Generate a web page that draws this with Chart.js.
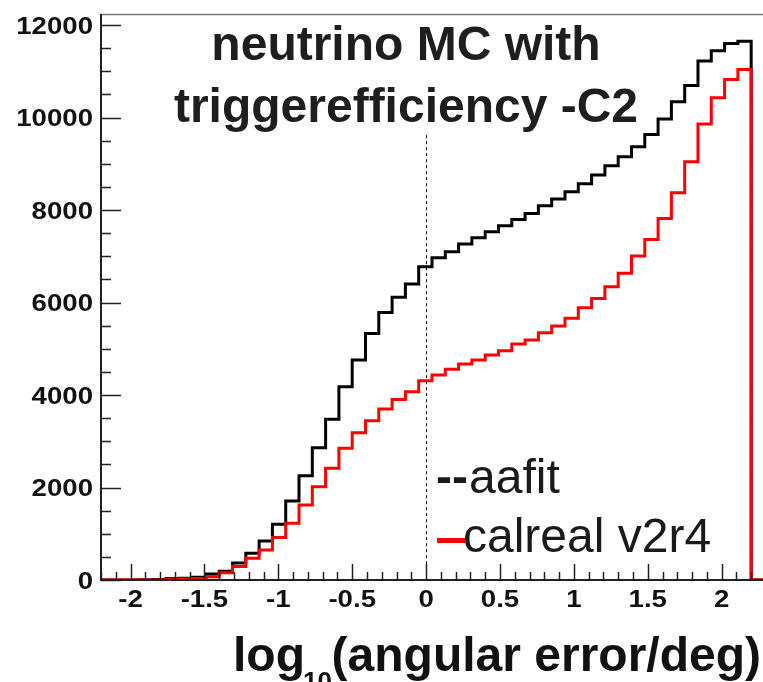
<!DOCTYPE html>
<html>
<head>
<meta charset="utf-8">
<script src="https://cdn.jsdelivr.net/npm/chart.js@4.4.1/dist/chart.umd.min.js"></script>
<style>
body { margin: 0; background: #fff; }
canvas { display: block; }
</style>
</head>
<body>
<canvas id="myChart" width="763" height="682"></canvas>
<script>
// 50 bins of width 0.09 in log10(angular error/deg), starting at -2.3
var binLow = -2.3;
var binWidth = 0.09;

var aafit = [
    0, 0, 0, 0, 5, 10, 30, 40, 60, 130,
    190, 365, 580, 843, 1204, 1708, 2255, 2860, 3474, 4180,
    4756, 5333, 5785, 6112, 6400, 6774, 6969, 7098, 7264, 7401,
    7530, 7660, 7798, 7928, 8093, 8237, 8395, 8570, 8756, 8958,
    9153, 9370, 9636, 9967, 10341, 10695, 11221, 11444, 11603, 11653
];
var calreal = [
    0, 0, 0, 0, 0, 0, 15, 20, 30, 72,
    158, 290, 470, 650, 920, 1225, 1621, 2018, 2414, 2847,
    3185, 3444, 3700, 3906, 4072, 4310, 4432, 4555, 4670, 4756,
    4865, 4958, 5102, 5189, 5347, 5491, 5658, 5890, 6090, 6341,
    6631, 7005, 7366, 7820, 8374, 9044, 9859, 10428, 10825, 11041
];

var xTickValues = [-2, -1.5, -1, -0.5, 0, 0.5, 1, 1.5, 2];
var xTickLabels = ['-2', '-1.5', '-1', '-0.5', '0', '0.5', '1', '1.5', '2'];
var yTickValues = [0, 2000, 4000, 6000, 8000, 10000, 12000];
var yTickLabels = ['0', '2000', '4000', '6000', '8000', '10000', '12000'];

var titleLines = ['neutrino MC with', 'triggerefficiency -C2'];
var cutValue = 0;        // dashed marker at log10 = 0
var cutTop = 9620;

var FONT = '"Liberation Sans", Arial, Helvetica, sans-serif';

// turn bin contents into points for a stepped line (value holds until next edge)
function histPoints(values) {
    var pts = [];
    for (var i = 0; i < values.length; i++) {
        pts.push({x: binLow + i * binWidth, y: values[i]});
    }
    var hi = binLow + values.length * binWidth;
    pts.push({x: hi, y: 0});
    pts.push({x: hi + 1, y: 0});
    return pts;
}

function stretchText(ctx, str, x, y, align, sx) {
    ctx.save();
    ctx.translate(x, y);
    ctx.scale(sx, 1);
    ctx.textAlign = align;
    ctx.fillText(str, 0, 0);
    ctx.restore();
}

var rootFrame = {
    id: 'rootFrame',
    beforeDatasetsDraw: function (chart) {
        var ctx = chart.ctx;
        var xs = chart.scales.x, ys = chart.scales.y;
        var px = Math.round(xs.getPixelForValue(cutValue)) + 0.5;
        ctx.save();
        ctx.strokeStyle = '#000';
        ctx.lineWidth = 1;
        ctx.setLineDash([3, 3]);
        ctx.beginPath();
        ctx.moveTo(px, ys.getPixelForValue(cutTop));
        ctx.lineTo(px, ys.getPixelForValue(0));
        ctx.stroke();
        ctx.restore();
    },
    afterDraw: function (chart) {
        var ctx = chart.ctx;
        var area = chart.chartArea;
        var xs = chart.scales.x, ys = chart.scales.y;
        var i, v, p, len;

        ctx.save();
        // frame
        ctx.strokeStyle = '#777';
        ctx.lineWidth = 1.5;
        ctx.beginPath();
        ctx.moveTo(area.left, area.top + 0.5);
        ctx.lineTo(area.right, area.top + 0.5);
        ctx.stroke();
        ctx.strokeStyle = '#222';
        ctx.lineWidth = 2;
        ctx.beginPath();
        ctx.moveTo(area.left, area.top);
        ctx.lineTo(area.left, area.bottom);
        ctx.lineTo(area.right, area.bottom);
        ctx.stroke();

        // y ticks, pointing into the frame
        ctx.lineWidth = 1.5;
        ctx.beginPath();
        for (v = 0; v <= 12000; v += 500) {
            p = Math.round(ys.getPixelForValue(v)) + 0.5;
            len = (v % 2000 === 0) ? 20 : 10;
            ctx.moveTo(area.left, p);
            ctx.lineTo(area.left + len, p);
        }
        // x ticks
        for (i = -22; i <= 22; i++) {
            v = i / 10;
            p = Math.round(xs.getPixelForValue(v)) + 0.5;
            len = (i % 5 === 0) ? 16 : 8;
            ctx.moveTo(p, area.bottom);
            ctx.lineTo(p, area.bottom - len);
        }
        ctx.stroke();

        // tick labels
        ctx.fillStyle = '#111';
        ctx.font = 'bold 24px ' + FONT;
        ctx.textBaseline = 'alphabetic';
        for (i = 0; i < yTickValues.length; i++) {
            p = ys.getPixelForValue(yTickValues[i]);
            stretchText(ctx, yTickLabels[i], 93, p + 8.5, 'right', 1.15);
        }
        for (i = 0; i < xTickValues.length; i++) {
            p = xs.getPixelForValue(xTickValues[i]);
            stretchText(ctx, xTickLabels[i], p, 607, 'center', 1.15);
        }

        // title
        ctx.fillStyle = '#1e1e1e';
        ctx.font = 'bold 48px ' + FONT;
        ctx.textAlign = 'center';
        ctx.fillText(titleLines[0], 406, 60);
        ctx.fillText(titleLines[1], 406, 122);

        // axis title with subscript
        ctx.textAlign = 'left';
        ctx.fillStyle = '#111';
        ctx.font = 'bold 48px ' + FONT;
        ctx.fillText('log', 233, 671);
        ctx.font = 'bold 26px ' + FONT;
        ctx.fillText('10', 303, 690);
        ctx.font = 'bold 48px ' + FONT;
        ctx.textAlign = 'right';
        ctx.fillText('(angular error/deg)', 761, 671);

        // legend
        ctx.textAlign = 'left';
        ctx.fillStyle = '#1a1a1a';
        ctx.font = 'bold 48px ' + FONT;
        ctx.fillText('--', 436, 493);
        ctx.font = '48px ' + FONT;
        ctx.fillText('aafit', 469, 493);
        ctx.fillText('calreal v2r4', 463, 552);
        ctx.fillStyle = '#ff0000';
        ctx.fillRect(437, 538, 28, 5);
        ctx.restore();
    }
};

var ctx = document.getElementById('myChart').getContext('2d');
var graphData = {
    type: 'line',
    data: {
        datasets: [{
            label: 'aafit',
            data: histPoints(aafit),
            stepped: true,
            borderColor: '#000000',
            borderWidth: 3,
            pointRadius: 0,
            fill: false,
            order: 2
        }, {
            label: 'calreal v2r4',
            data: histPoints(calreal),
            stepped: true,
            borderColor: '#ff0000',
            borderWidth: 3,
            pointRadius: 0,
            fill: false,
            order: 1
        }]
    },
    options: {
        responsive: false,
        animation: false,
        borderJoinStyle: 'miter',
        layout: { padding: { left: 101, top: 14, right: 0, bottom: 102 } },
        plugins: {
            legend: { display: false },
            tooltip: { enabled: false }
        },
        scales: {
            x: { type: 'linear', min: -2.2, max: 2.28, display: false },
            y: { min: 0, max: 12240, display: false }
        }
    },
    plugins: [rootFrame]
};

var myChart = new Chart(ctx, graphData);
</script>
</body>
</html>
